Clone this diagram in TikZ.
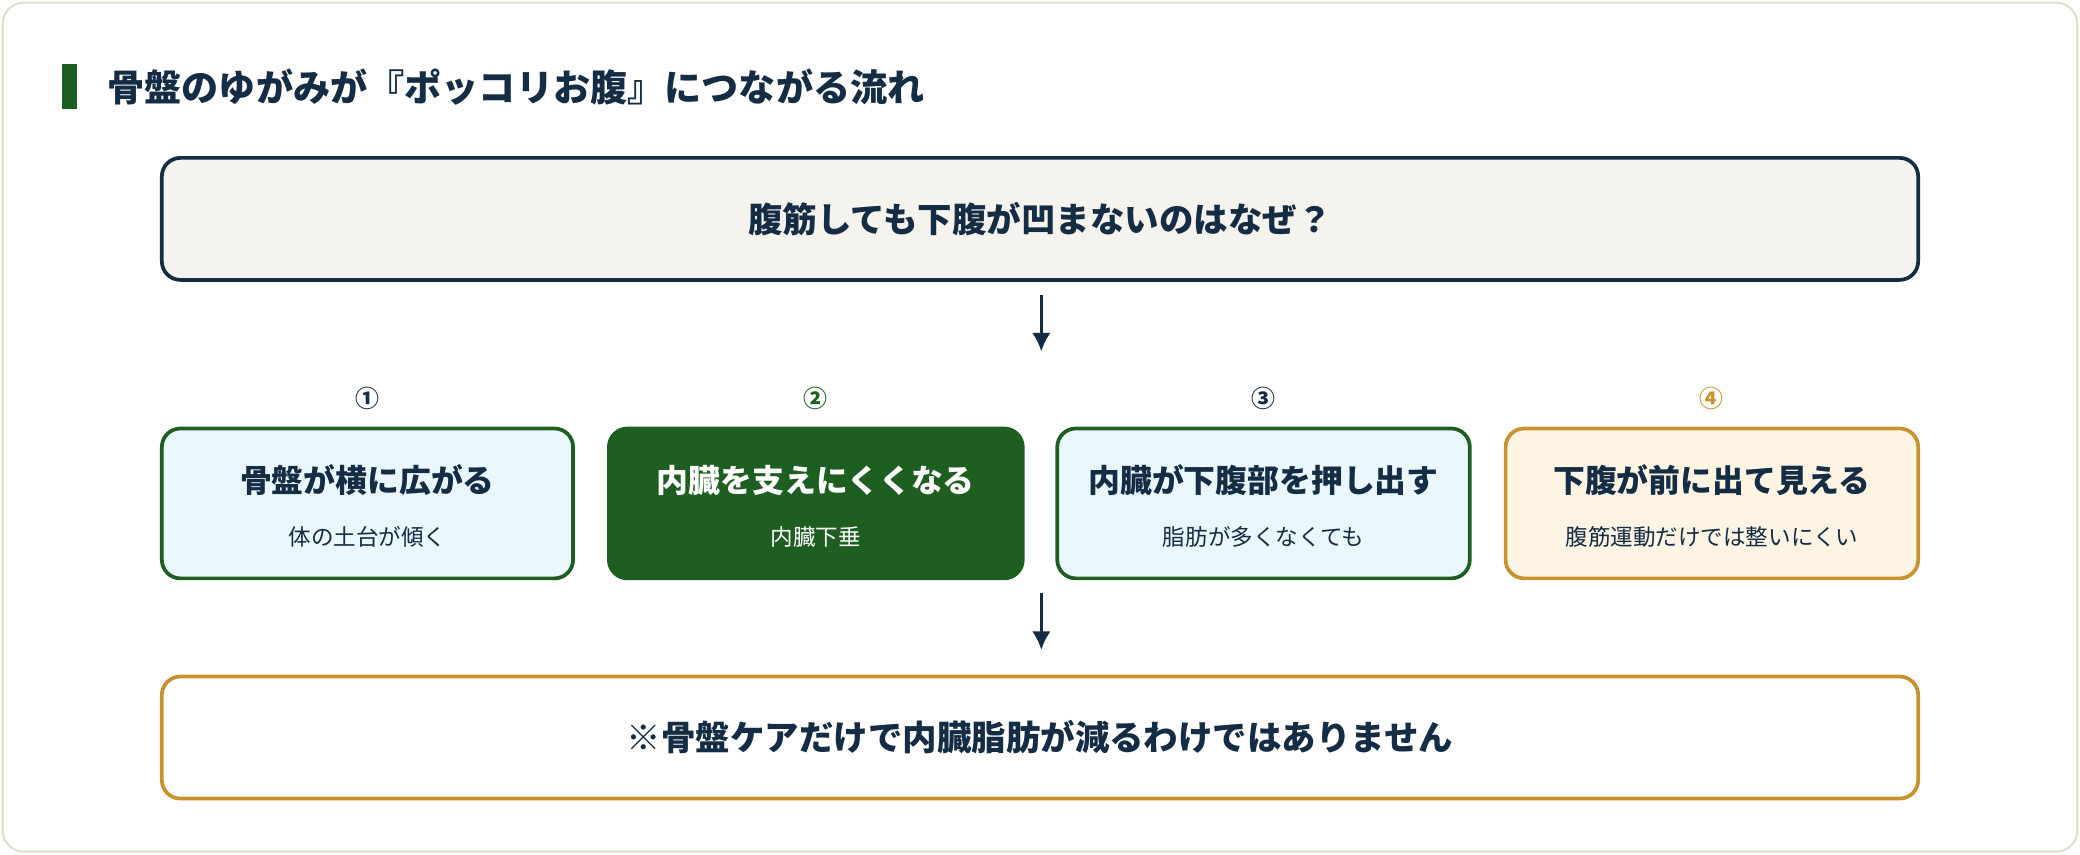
\documentclass[tikz,border=0pt]{standalone}
\usepackage{fontspec}
\usetikzlibrary{arrows.meta}
\setmainfont{Noto Sans CJK JP}
\definecolor{navy}{HTML}{142C44}
\definecolor{grn}{HTML}{1E5E20}
\definecolor{org}{HTML}{C8922F}
\definecolor{lblue}{HTML}{EAF7FC}
\definecolor{lorg}{HTML}{FDF4E4}
\definecolor{beige}{HTML}{F4F3EE}
\definecolor{frame}{HTML}{E0DCCC}
\begin{document}
\begin{tikzpicture}[x=0.5pt,y=-0.5pt,
 box/.style={draw,line width=1.4pt,rounded corners=7pt,inner sep=0pt},
 big/.style={font=\fontsize{13}{15}\selectfont\bfseries,text=navy},
 mt/.style={font=\fontsize{12}{14}\selectfont\bfseries},
 st/.style={font=\fontsize{8.5}{10}\selectfont},
 num/.style={font=\fontsize{9}{10}\selectfont\bfseries},
 arr/.style={-{Latex[length=7pt,width=7pt]},line width=1.3pt,draw=navy}]
\useasboundingbox (0,0) rectangle (1568,644);
\draw[frame,fill=white,line width=0.7pt,rounded corners=8pt] (2,2) rectangle (1566,642);
\fill[grn] (47,48) rectangle (58,82);
\node[anchor=west,font=\fontsize{14}{16}\selectfont\bfseries,text=navy] (title) at (74,66) {骨盤のゆがみが『ポッコリお腹』につながる流れ};
\node[box,draw=navy,fill=beige,minimum width=662pt,minimum height=46pt,big] (top) at (784,165) {腹筋しても下腹が凹まないのはなぜ？};
\node[box,draw=grn,fill=lblue,minimum width=155pt,minimum height=56.5pt] (b1) at (277,379.5) {};
\node[box,draw=grn,fill=grn,minimum width=156pt,minimum height=56.5pt] (b2) at (615,379.5) {};
\node[box,draw=grn,fill=lblue,minimum width=155.5pt,minimum height=56.5pt] (b3) at (952.5,379.5) {};
\node[box,draw=org,fill=lorg,minimum width=155.5pt,minimum height=56.5pt] (b4) at (1290.5,379.5) {};
\node[num,text=navy] (n1) at (277,300) {①};
\node[num,text=grn] (n2) at (615,300) {②};
\node[num,text=navy] (n3) at (952.5,300) {③};
\node[num,text=org] (n4) at (1290.5,300) {④};
\node[mt,text=navy] (m1) at (277,362) {骨盤が横に広がる};
\node[st,text=navy] (s1) at (277,405) {体の土台が傾く};
\node[mt,text=white] (m2) at (615,362) {内臓を支えにくくなる};
\node[st,text=white] (s2) at (615,405) {内臓下垂};
\node[mt,text=navy] (m3) at (952.5,362) {内臓が下腹部を押し出す};
\node[st,text=navy] (s3) at (952.5,405) {脂肪が多くなくても};
\node[mt,text=navy] (m4) at (1290.5,362) {下腹が前に出て見える};
\node[st,text=navy] (s4) at (1290.5,405) {腹筋運動だけでは整いにくい};
\node[box,draw=org,fill=white,minimum width=662pt,minimum height=46pt,big] (bot) at (784,556) {※骨盤ケアだけで内臓脂肪が減るわけではありません};
\coordinate (a1) at (785,222); \coordinate (a2) at (785,265);
\coordinate (a3) at (785,447); \coordinate (a4) at (785,490);
\draw[arr] (a1) -- (a2);
\draw[arr] (a3) -- (a4);
\end{tikzpicture}
\end{document}
